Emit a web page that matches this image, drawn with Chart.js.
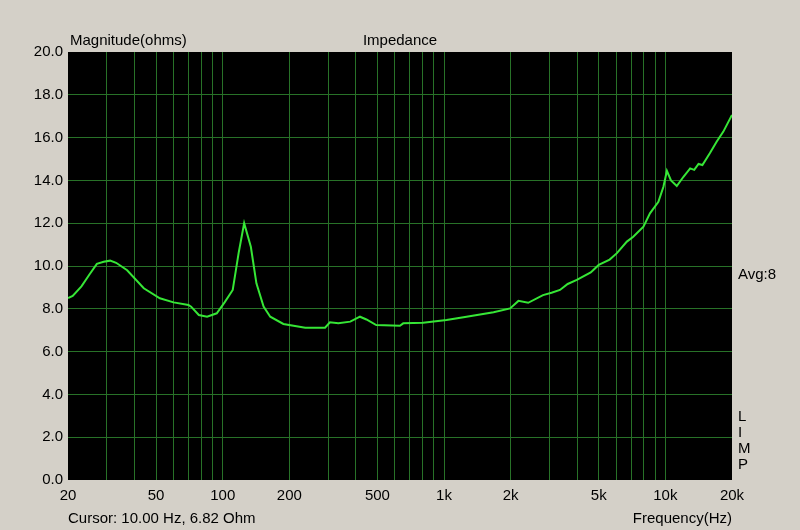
<!DOCTYPE html>
<html>
<head>
<meta charset="utf-8">
<script src="https://cdn.jsdelivr.net/npm/chart.js@4.4.1/dist/chart.umd.min.js"></script>
<style>
  html, body { margin: 0; padding: 0; background: #d4d0c8; }
  #wrap { width: 800px; height: 530px; }
</style>
</head>
<body>
<div id="wrap"><canvas id="impChart" width="800" height="530"></canvas></div>
<script>
// impedance sweep
const freqs = [20, 21, 23, 25, 27, 29, 31, 33, 37, 44, 52, 60, 70, 72, 78, 85, 94, 102, 111, 118, 125, 134, 142, 153, 164, 188,
  236, 290, 305, 333, 377, 417, 446, 494, 632, 654, 804, 1026, 1264, 1674, 1988, 2168, 2400, 2800, 3060, 3340, 3620, 3980, 4600,
  5000, 5600, 6040, 6700, 7160, 7960, 8520, 9300, 9800, 10160, 10600, 11260, 12070, 12940, 13500, 14120, 14700, 15880,
  17040, 18280, 20000];
const ohms = [8.5, 8.6, 9.05, 9.6, 10.1, 10.2, 10.25, 10.15, 9.8, 8.96, 8.49, 8.3, 8.18, 8.1, 7.71, 7.63, 7.79, 8.3, 8.88, 10.6, 12.0, 10.9, 9.19, 8.1, 7.63, 7.29,
  7.12, 7.12, 7.37, 7.32, 7.4, 7.63, 7.5, 7.24, 7.21, 7.32, 7.35, 7.48, 7.63, 7.84, 8.02, 8.37, 8.28, 8.64, 8.75, 8.88, 9.16, 9.35, 9.7,
  10.05, 10.3, 10.6, 11.14, 11.37, 11.84, 12.46, 13.0, 13.7, 14.45, 14.0, 13.74, 14.17, 14.56, 14.49, 14.77, 14.72, 15.27,
  15.81, 16.28, 17.06];

const gridFreqs = [20, 30, 40, 50, 60, 70, 80, 90, 100, 200, 300, 400, 500, 600, 700, 800, 900, 1000,
  2000, 3000, 4000, 5000, 6000, 7000, 8000, 9000, 10000, 20000];
const freqLabels = { 20: '20', 50: '50', 100: '100', 200: '200', 500: '500', 1000: '1k', 2000: '2k', 5000: '5k', 10000: '10k', 20000: '20k' };

const FONT = '"Liberation Sans", Arial, sans-serif';
const GRID = '#287228';

const backdrop = {
  id: 'backdrop',
  beforeDraw(chart) {
    const c = chart.ctx, a = chart.chartArea;
    c.save();
    c.fillStyle = '#d4d0c8';
    c.fillRect(0, 0, chart.width, chart.height);
    c.fillStyle = '#000';
    c.fillRect(a.left, a.top, a.right - a.left, a.bottom - a.top);
    c.restore();
  },
  afterDraw(chart) {
    const c = chart.ctx, a = chart.chartArea;
    c.save();
    c.fillStyle = '#000';
    c.font = '15px ' + FONT;
    c.textBaseline = 'alphabetic';
    c.textAlign = 'left';
    c.fillText('Magnitude(ohms)', 70, 45);
    c.fillText('Cursor: 10.00 Hz, 6.82 Ohm', 68, 523);
    c.fillText('Avg:8', 738, 279);
    ['L', 'I', 'M', 'P'].forEach((ch, i) => c.fillText(ch, 738, 421 + i * 16));
    c.textAlign = 'center';
    c.fillText('Impedance', (a.left + a.right) / 2, 45);
    c.textAlign = 'right';
    c.fillText('Frequency(Hz)', 732, 523);
    c.restore();
  }
};

new Chart(document.getElementById('impChart'), {
  type: 'line',
  data: {
    datasets: [{
      data: freqs.map((f, i) => ({ x: f, y: ohms[i] })),
      borderColor: '#36e636',
      borderWidth: 2,
      pointRadius: 0,
      tension: 0,
      fill: false
    }]
  },
  options: {
    responsive: false,
    animation: false,
    events: [],
    layout: { padding: { top: 52, right: 68, left: 0, bottom: 0 } },
    plugins: { legend: { display: false }, tooltip: { enabled: false } },
    scales: {
      x: {
        type: 'logarithmic',
        min: 20,
        max: 20000,
        afterBuildTicks(scale) { scale.ticks = gridFreqs.map(v => ({ value: v })); },
        afterFit(scale) { scale.height = 50; },
        border: { display: false },
        grid: {
          drawTicks: false,
          color: ctx => (ctx.tick && (ctx.tick.value === 20 || ctx.tick.value === 20000)) ? 'rgba(0,0,0,0)' : GRID
        },
        ticks: {
          autoSkip: false,
          maxRotation: 0,
          minRotation: 0,
          padding: 7,
          color: '#000',
          font: { family: FONT, size: 15 },
          callback: v => freqLabels[v] || ''
        }
      },
      y: {
        min: 0,
        max: 20,
        afterFit(scale) { scale.width = 68; },
        border: { display: false },
        grid: {
          drawTicks: false,
          color: ctx => (ctx.tick && (ctx.tick.value === 0 || ctx.tick.value === 20)) ? 'rgba(0,0,0,0)' : GRID
        },
        ticks: {
          stepSize: 2,
          padding: 5,
          color: '#000',
          font: { family: FONT, size: 15 },
          callback: v => v.toFixed(1)
        }
      }
    }
  },
  plugins: [backdrop]
});
</script>
</body>
</html>
